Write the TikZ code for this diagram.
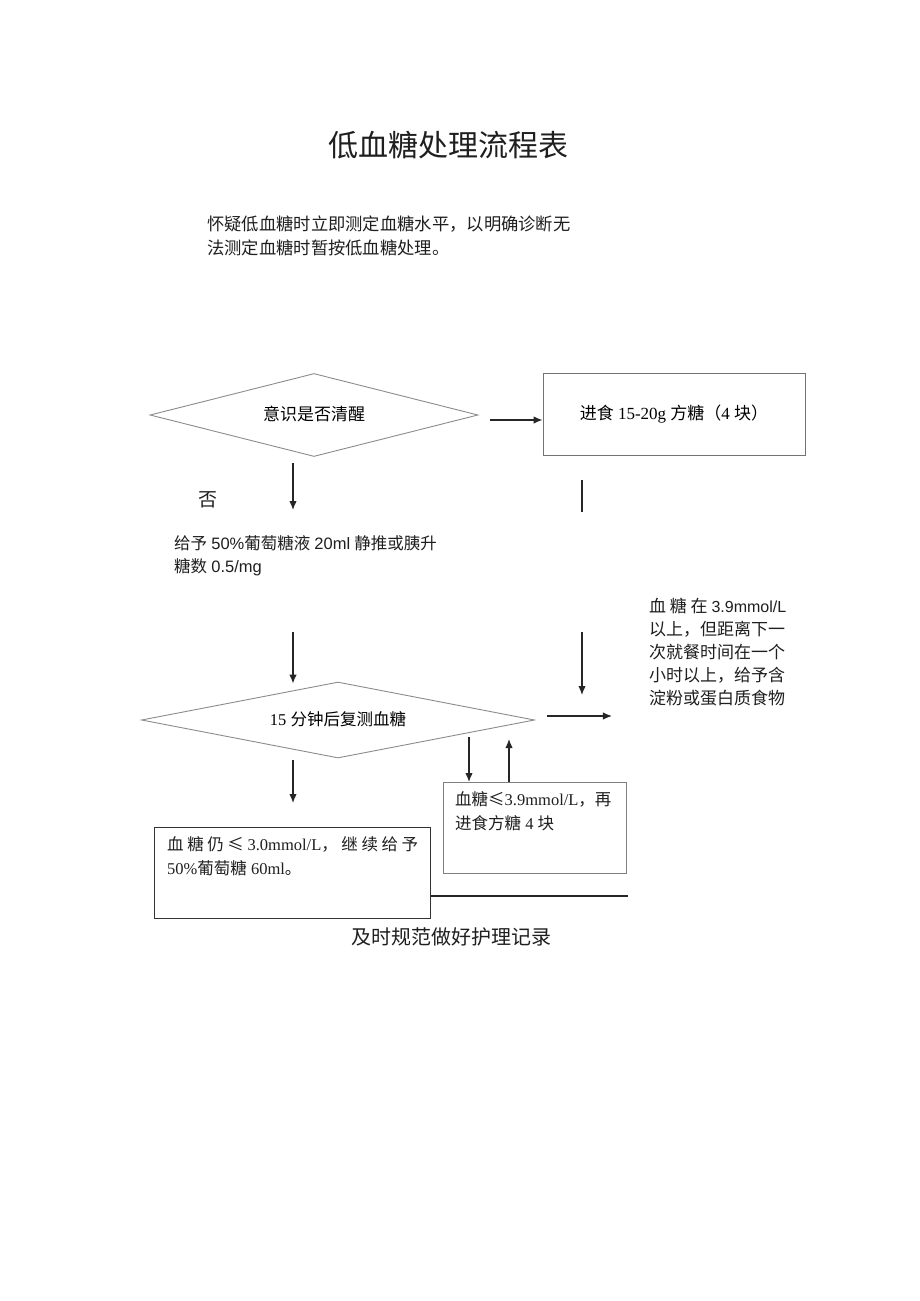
\documentclass[tikz,border=0pt]{standalone}
\usepackage{fontspec}
\setmainfont{Liberation Serif}
\newfontfamily\cjk{Noto Sans CJK SC}
\newfontfamily\lsans{Liberation Sans}
\usetikzlibrary{shapes.geometric,arrows.meta}
\newcommand\zh[1]{{\cjk #1}}
\newcommand\fsz[2]{\fontsize{#1}{#2}\selectfont}
\begin{document}
\begin{tikzpicture}[x=1pt,y=-1pt,
  dia/.style={draw=black!45, line width=0.9pt, diamond, aspect=4, inner sep=0pt},
  boxa/.style={draw=black!55, line width=0.9pt, rectangle, inner sep=0pt},
  boxb/.style={draw=black!80, line width=1.3pt, rectangle, inner sep=0pt, anchor=north west},
  arr/.style={-{Latex[length=9pt,width=7.5pt]}, line width=1.3pt, draw=black!85},
  plainline/.style={line width=1.3pt, draw=black!85},
  txt/.style={inner sep=0pt, text=black!88}]
\useasboundingbox (0,0) rectangle (920,1301);
\fill[white] (0,0) rectangle (920,1301);

% title and intro
\node[txt] (title) at (448,145) {\fsz{30}{36}\cjk 低血糖处理流程表};
\node[txt, anchor=west, align=left, font=\fsz{17.3}{24}\cjk] (intro) at (207,236)
  {怀疑低血糖时立即测定血糖水平，以明确诊断无\\法测定血糖时暂按低血糖处理。};

% first decision
\node[dia, minimum width=328pt, minimum height=83pt, font=\fsz{17}{20}\cjk] (d1) at (314,415)
  {\raisebox{4pt}{意识是否清醒}};
\node[boxa, minimum width=262pt, minimum height=82pt, font=\fsz{17}{20}] (b1) at (674,414)
  {\zh{进食} 15-20g \zh{方糖（}4 \zh{块）}};
\draw[arr] ([xshift=12pt,yshift=-5pt]d1.east) -- ([yshift=-6pt]b1.west);

\node[txt, font=\fsz{19}{20}\cjk] (no) at (208,500) {否};
\coordinate (a1s) at (293,463);
\coordinate (a1e) at (293,510);
\draw[arr] (a1s) -- (a1e);
\coordinate (l1e) at (582,512);
\draw[plainline] ([yshift=-25pt]b1.south -| l1e) -- (l1e);

\node[txt, anchor=west, align=left, font=\fsz{16.5}{23}] (inj) at (174,556)
  {\zh{给予} {\lsans 50\%}\zh{葡萄糖液} {\lsans 20ml} \zh{静推或胰升}\\\zh{糖数} {\lsans 0.5/mg}};

\coordinate (a2s) at (293,632);
\coordinate (a3s) at (582,632);
\coordinate (a3e) at (582,695);

% right text block
\node[txt, anchor=west, align=left, font=\fsz{17}{23}\cjk] (eat) at (649,652)
  {\hbox to 137pt{血\hfil 糖\hfil 在\hfil {\lsans\fsz{16}{23}3.9mmol/L}}\\以上，但距离下一\\次就餐时间在一个\\小时以上，给予含\\淀粉或蛋白质食物};

% second decision
\node[dia, minimum width=393pt, minimum height=76pt, font=\fsz{16.5}{20}] (d2) at (338,720)
  {\raisebox{3pt}{15 \zh{分钟后复测血糖}}};
\draw[arr] (a2s) -- ([yshift=-2pt]a2s |- d2.north);
\draw[arr] (a3s) -- (a3e);
\draw[arr] ([xshift=12pt,yshift=4pt]d2.east) -- ([xshift=77pt,yshift=4pt]d2.east);

% boxes
\node[boxb, draw=black!50, line width=0.9pt, minimum width=183pt, minimum height=91pt] (b3) at (443,782) {};
\node[txt, anchor=north west, align=left, font=\fsz{16.5}{24}] (b3t) at (455,791)
  {\zh{血糖≤}3.9mmol/L\zh{，再}\\\zh{进食方糖} 4 \zh{块}};
\node[boxb, minimum width=276pt, minimum height=91pt] (b4) at (154,827) {};
\node[txt, anchor=north west, align=left, font=\fsz{16.5}{24}] (b4t) at (167,836)
  {\hbox to 251pt{\zh{血}\hfil\zh{糖}\hfil\zh{仍}\hfil\zh{≤}\hfil 3.0mmol/L\zh{，}\hfil\zh{继}\hfil\zh{续}\hfil\zh{给}\hfil\zh{予}}\\50\%\zh{葡萄糖} 60ml\zh{。}};

\coordinate (a4s) at (293,760);
\draw[arr] (a4s) -- ([yshift=24pt]b4.north -| a4s);
\coordinate (a5s) at (469,737);
\draw[arr] (a5s) -- (b3.north -| a5s);
\coordinate (a6e) at (509,739);
\draw[arr] (b3.north -| a6e) -- (a6e);
\coordinate (hl) at (628,896);
\draw[plainline] (b4.east |- hl) -- (hl);

\node[txt, font=\fsz{20}{24}\cjk] (rec) at (451,937) {及时规范做好护理记录};
\end{tikzpicture}
\end{document}
